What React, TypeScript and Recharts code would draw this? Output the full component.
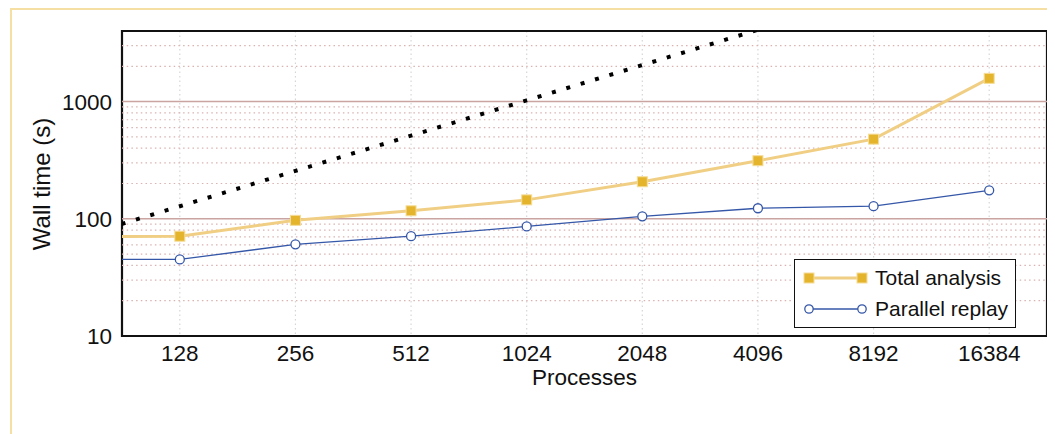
import React from 'react';
import {
  ComposedChart,
  Line,
  XAxis,
  YAxis,
  CartesianGrid,
  ReferenceLine,
  ReferenceArea,
  Label,
} from 'recharts';

// values (log-log plot)
const processes = [64, 128, 256, 512, 1024, 2048, 4096, 8192, 16384];
const totalAnalysis = [70, 71, 97, 117, 145, 207, 313, 478, 1578];
const parallelReplay = [45, 45, 60.5, 71, 86, 105, 123, 128, 175];
const idealProcesses = [64, 128, 256, 512, 1024, 2048, 4096, 8192];
const idealTime = [64, 128, 256, 512, 1024, 2048, 4096, 8192];

const xTicks = [128, 256, 512, 1024, 2048, 4096, 8192, 16384];
const yTicks = [10, 100, 1000];
const majorGrid = [100, 1000];
const minorGrid = [20, 30, 40, 50, 60, 70, 80, 90, 200, 300, 400, 500, 600, 700, 800, 900, 2000, 3000];

const GOLD_LINE = '#f0cf84';
const GOLD_MARK = '#e4b52c';
const BLUE = '#3557a8';
const FONT = '"Liberation Sans", Arial, Helvetica, sans-serif';

const totalData = processes.map((p, i) => ({ p, v: totalAnalysis[i] }));
const replayData = processes.map((p, i) => ({ p, v: parallelReplay[i] }));
const idealData = idealProcesses.map((p, i) => ({ p, v: idealTime[i] }));

const X_DOMAIN: [number, number] = [128 / Math.SQRT2, 16384 * Math.SQRT2];
const Y_DOMAIN: [number, number] = [10, 4000];

const SquareDot = (props: any) => {
  const { cx, cy, index } = props;
  if (cx == null || cy == null) return <g key={index} />;
  return (
    <rect
      key={index}
      x={cx - 5}
      y={cy - 5}
      width={10}
      height={10}
      fill={GOLD_MARK}
      stroke="#f5dc98"
      strokeWidth={1}
    />
  );
};

function LegendBox() {
  const row = (kind: 'sq' | 'ci', text: string) => (
    <div style={{ display: 'flex', alignItems: 'center', height: 31 }}>
      <svg width={70} height={16} style={{ marginLeft: 6, flex: 'none' }}>
        {kind === 'sq' ? (
          <>
            <line x1={8} y1={8} x2={61} y2={8} stroke={GOLD_LINE} strokeWidth={3} />
            <rect x={3} y={3} width={10} height={10} fill={GOLD_MARK} stroke="#f5dc98" />
            <rect x={56} y={3} width={10} height={10} fill={GOLD_MARK} stroke="#f5dc98" />
          </>
        ) : (
          <>
            <line x1={8} y1={8} x2={61} y2={8} stroke={BLUE} strokeWidth={1.3} />
            <circle cx={8} cy={8} r={4.2} fill="#fff" stroke={BLUE} strokeWidth={1.3} />
            <circle cx={61} cy={8} r={4.2} fill="#fff" stroke={BLUE} strokeWidth={1.3} />
          </>
        )}
      </svg>
      <span style={{ marginLeft: 4, fontSize: 21, color: '#111', whiteSpace: 'nowrap' }}>{text}</span>
    </div>
  );
  return (
    <div
      style={{
        position: 'absolute',
        left: 786,
        top: 251,
        width: 220,
        height: 65,
        border: '1.5px solid #111',
        background: '#fff',
        fontFamily: FONT,
        paddingTop: 2,
        boxSizing: 'content-box',
      }}
    >
      {row('sq', 'Total analysis')}
      {row('ci', 'Parallel replay')}
    </div>
  );
}

export default function App() {
  return (
    <div style={{ position: 'relative', width: 1047, height: 426, overflow: 'hidden', fontFamily: FONT }}>
      <div
        style={{
          position: 'absolute',
          left: 2,
          top: 0,
          width: 2000,
          height: 2000,
          borderTop: '2px solid #f6dfa3',
          borderLeft: '2px solid #f6dfa3',
        }}
      />
      <div style={{ position: 'absolute', left: 0, top: 0 }}>
        <ComposedChart width={1041} height={426} margin={{ top: 23, right: 2, bottom: 38, left: 0 }}>
          <CartesianGrid
            horizontal={false}
            stroke="#d6d6d6"
            strokeDasharray="1.5 3"
            strokeWidth={1.2}
          />
          <XAxis
            type="number"
            dataKey="p"
            scale="log"
            domain={X_DOMAIN}
            allowDataOverflow
            ticks={xTicks}
            interval={0}
            height={60}
            tickSize={0}
            tickMargin={9}
            axisLine={false}
            tick={{ fontSize: 22.5, fill: '#111', fontFamily: FONT }}
          >
            <Label
              value="Processes"
              position="insideBottom"
              offset={11}
              style={{ fontSize: 22.5, fill: '#111', fontFamily: FONT }}
            />
          </XAxis>
          <YAxis
            type="number"
            scale="log"
            domain={Y_DOMAIN}
            allowDataOverflow
            ticks={yTicks}
            interval={0}
            width={114}
            tickSize={0}
            tickMargin={10}
            axisLine={false}
            tick={{ fontSize: 22.5, fill: '#111', fontFamily: FONT }}
          >
            <Label
              content={() => (
                <text
                  x={42}
                  y={176}
                  transform="rotate(-90, 42, 176)"
                  textAnchor="middle"
                  style={{ fontSize: 24, fill: '#111', fontFamily: FONT }}
                >
                  Wall time (s)
                </text>
              )}
            />
          </YAxis>
          {minorGrid.map((v) => (
            <ReferenceLine
              key={`m${v}`}
              y={v}
              stroke="#dbb2b2"
              strokeDasharray="1.5 3.2"
              strokeWidth={1.2}
            />
          ))}
          {majorGrid.map((v) => (
            <ReferenceLine key={`M${v}`} y={v} stroke="#c9a4a0" strokeWidth={1.4} />
          ))}
          <Line
            data={idealData}
            dataKey="v"
            type="linear"
            stroke="#000"
            strokeWidth={4}
            strokeDasharray="4 11"
            dot={false}
            activeDot={false}
            isAnimationActive={false}
          />
          <Line
            data={totalData}
            dataKey="v"
            type="linear"
            stroke={GOLD_LINE}
            strokeWidth={3}
            dot={SquareDot}
            activeDot={false}
            isAnimationActive={false}
          />
          <Line
            data={replayData}
            dataKey="v"
            type="linear"
            stroke={BLUE}
            strokeWidth={1.3}
            dot={{ r: 4.5, fill: '#fff', stroke: BLUE, strokeWidth: 1.3 }}
            activeDot={false}
            isAnimationActive={false}
          />
          <ReferenceArea
            x1={X_DOMAIN[0]}
            x2={X_DOMAIN[1]}
            y1={Y_DOMAIN[0]}
            y2={Y_DOMAIN[1]}
            fill="none"
            fillOpacity={0}
            stroke="#111"
            strokeWidth={2.2}
          />
        </ComposedChart>
      </div>
      <LegendBox />
    </div>
  );
}
